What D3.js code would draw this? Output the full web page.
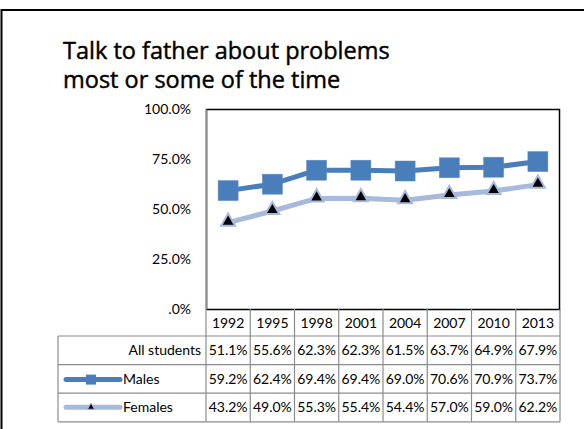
<!doctype html>
<html>
    <head>
        <meta charset="utf-8">
        <title>Talk to father about problems</title>
        <script src="https://d3js.org/d3.v7.min.js"></script>
        <style type="text/css">
            body { margin:0; background:#fff; }
            text { font-family:Lato, sans-serif; font-size:14px; fill:#000; }
            .title { font-family:"Open Sans", sans-serif; font-size:23.5px; stroke:#000; stroke-width:0.45px; }
        </style>
    </head>
    <body>
        <svg></svg>
        <script type="text/javascript">

            var w = 584,
                h = 429;

            var years = ['1992', '1995', '1998', '2001', '2004', '2007', '2010', '2013'];
            var allStudents = [51.1, 55.6, 62.3, 62.3, 61.5, 63.7, 64.9, 67.9];
            var males = [59.2, 62.4, 69.4, 69.4, 69.0, 70.6, 70.9, 73.7];
            var females = [43.2, 49.0, 55.3, 55.4, 54.4, 57.0, 59.0, 62.2];
            var yTicks = [0, 25, 50, 75, 100];

            var rows = [
                { name: 'All students', values: allStudents, legend: null },
                { name: 'Males', values: males, legend: 'square' },
                { name: 'Females', values: females, legend: 'triangle' }
            ];

            var plot = { left: 206, top: 109, right: 560, bottom: 309 };
            var labelLeft = 58,
                headH = 27,
                rowH = 28.6;

            var maleColor = '#4a7ebb',
                femaleColor = '#a7b9dc',
                gridGray = '#8c8c8c';

            var svg = d3.select('svg')
                .attr('width', w)
                .attr('height', h);

            // outer frame (runs off the right and bottom)
            svg.append('rect')
                .attr('x', 1.5).attr('y', 10)
                .attr('width', 700).attr('height', 600)
                .attr('fill', 'none')
                .attr('stroke', '#000')
                .attr('stroke-width', 2);

            svg.append('text').attr('class', 'title')
                .attr('x', 63).attr('y', 59)
                .text('Talk to father about problems');
            svg.append('text').attr('class', 'title')
                .attr('x', 63).attr('y', 88)
                .text('most or some of the time');

            var xScale = d3.scaleBand()
                .domain(years)
                .range([plot.left, plot.right]);

            var yScale = d3.scaleLinear()
                .domain([0, 100])
                .range([plot.bottom, plot.top]);

            // plot area box
            svg.append('rect')
                .attr('x', plot.left + 0.5).attr('y', plot.top + 0.5)
                .attr('width', plot.right - plot.left - 1)
                .attr('height', plot.bottom - plot.top)
                .attr('fill', 'none')
                .attr('stroke', '#000')
                .attr('stroke-width', 1.5);

            var yAxis = d3.axisLeft(yScale)
                .tickValues(yTicks)
                .tickSize(0)
                .tickPadding(15)
                .tickFormat(function(d) { return d === 0 ? '.0%' : d.toFixed(1) + '%'; });

            var yg = svg.append('g')
                .attr('transform', 'translate(' + plot.left + ',0)')
                .call(yAxis);
            yg.attr('font-size', null).attr('font-family', null);
            yg.select('.domain').attr('stroke', gridGray).attr('stroke-width', 1.5);
            yg.selectAll('text').attr('fill', '#000');

            // data table
            var tableTop = plot.bottom,
                tableBottom = tableTop + headH + rowH * rows.length;

            var table = svg.append('g').attr('class', 'table')
                .attr('stroke', gridGray)
                .attr('stroke-width', 1.2)
                .attr('fill', 'none');

            table.selectAll('line.v')
                .data(years.concat(['end']))
                .enter().append('line')
                .attr('x1', function(d, i) { return i < years.length ? xScale(d) : plot.right; })
                .attr('x2', function(d, i) { return i < years.length ? xScale(d) : plot.right; })
                .attr('y1', tableTop)
                .attr('y2', tableBottom);

            table.append('line')
                .attr('x1', labelLeft).attr('x2', labelLeft)
                .attr('y1', tableTop + headH).attr('y2', tableBottom);

            table.selectAll('line.h')
                .data(d3.range(rows.length + 1))
                .enter().append('line')
                .attr('x1', labelLeft).attr('x2', plot.right)
                .attr('y1', function(d) { return tableTop + headH + d * rowH; })
                .attr('y2', function(d) { return tableTop + headH + d * rowH; });

            svg.selectAll('text.year')
                .data(years)
                .enter().append('text')
                .attr('x', function(d) { return xScale(d) + xScale.bandwidth() / 2; })
                .attr('y', tableTop + 19)
                .attr('text-anchor', 'middle')
                .text(function(d) { return d; });

            var rowG = svg.selectAll('g.row')
                .data(rows)
                .enter().append('g')
                .attr('transform', function(d, i) {
                    return 'translate(0,' + (tableTop + headH + i * rowH) + ')';
                });

            rowG.selectAll('text.val')
                .data(function(d) { return d.values; })
                .enter().append('text')
                .attr('x', function(d, i) { return xScale(years[i]) + xScale.bandwidth() / 2; })
                .attr('y', 19)
                .attr('text-anchor', 'middle')
                .text(function(d) { return d.toFixed(1) + '%'; });

            rowG.append('text')
                .attr('x', function(d) { return d.legend ? 123 : 201; })
                .attr('y', 19)
                .attr('text-anchor', function(d) { return d.legend ? 'start' : 'end'; })
                .text(function(d) { return d.name; });

            // legend keys
            var maleKey = rowG.filter(function(d) { return d.legend === 'square'; });
            maleKey.append('line')
                .attr('x1', 66).attr('x2', 120).attr('y1', 15).attr('y2', 15)
                .attr('stroke', maleColor).attr('stroke-width', 5).attr('stroke-linecap', 'round');
            maleKey.append('rect')
                .attr('x', 86).attr('y', 10).attr('width', 10).attr('height', 10)
                .attr('fill', maleColor);

            var femaleKey = rowG.filter(function(d) { return d.legend === 'triangle'; });
            femaleKey.append('line')
                .attr('x1', 66).attr('x2', 120).attr('y1', 14).attr('y2', 14)
                .attr('stroke', femaleColor).attr('stroke-width', 5).attr('stroke-linecap', 'round');
            femaleKey.append('path')
                .attr('d', d3.symbol().type(d3.symbolTriangle).size(22)())
                .attr('transform', 'translate(91,14)')
                .attr('fill', '#000')
                .attr('stroke', femaleColor)
                .attr('stroke-width', 1);

            // series lines
            var line = d3.line()
                .x(function(d, i) { return xScale(years[i]) + xScale.bandwidth() / 2; })
                .y(function(d) { return yScale(d); });

            svg.append('path')
                .datum(females)
                .attr('d', line)
                .attr('fill', 'none')
                .attr('stroke', femaleColor)
                .attr('stroke-width', 5)
                .attr('stroke-linejoin', 'round');

            svg.selectAll('path.tri')
                .data(females)
                .enter().append('path')
                .attr('d', d3.symbol().type(d3.symbolTriangle).size(85)())
                .attr('transform', function(d, i) {
                    return 'translate(' + (xScale(years[i]) + xScale.bandwidth() / 2) + ',' + (yScale(d) - 1) + ')';
                })
                .attr('fill', '#000')
                .attr('stroke', femaleColor)
                .attr('stroke-width', 2);

            svg.append('path')
                .datum(males)
                .attr('d', line)
                .attr('fill', 'none')
                .attr('stroke', maleColor)
                .attr('stroke-width', 5)
                .attr('stroke-linejoin', 'round');

            svg.selectAll('rect.sq')
                .data(males)
                .enter().append('rect')
                .attr('x', function(d, i) { return xScale(years[i]) + xScale.bandwidth() / 2 - 10; })
                .attr('y', function(d) { return yScale(d) - 10; })
                .attr('width', 20)
                .attr('height', 20)
                .attr('fill', maleColor)
                .attr('stroke', '#5a8ac6')
                .attr('stroke-width', 0.5);
        </script>
    </body>
</html>
